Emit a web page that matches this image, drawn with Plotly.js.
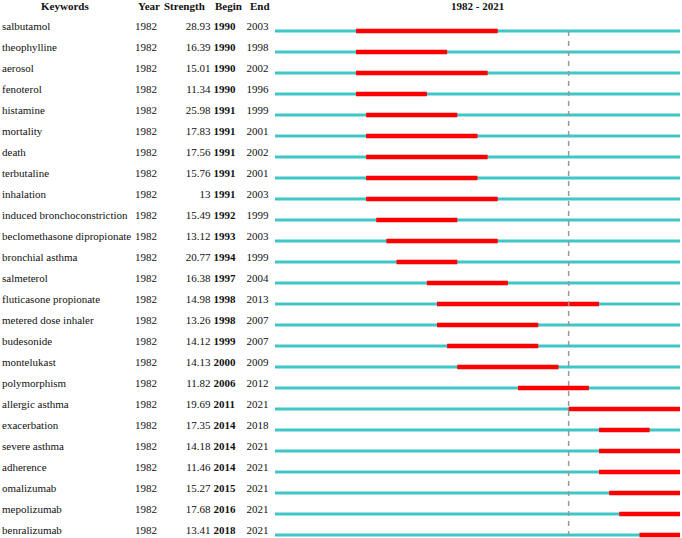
<!DOCTYPE html>
<html>
<head>
<meta charset="utf-8">
<script src="https://cdn.plot.ly/plotly-3.0.1.min.js"></script>
<style>html,body{margin:0;padding:0;background:#fff;}#chart{width:682px;height:538px;}</style>
</head>
<body>
<div id="chart"></div>
<script>
const keywords = ["salbutamol","theophylline","aerosol","fenoterol","histamine","mortality","death","terbutaline","inhalation","induced bronchoconstriction","beclomethasone dipropionate","bronchial asthma","salmeterol","fluticasone propionate","metered dose inhaler","budesonide","montelukast","polymorphism","allergic asthma","exacerbation","severe asthma","adherence","omalizumab","mepolizumab","benralizumab"];
const years = [1982,1982,1982,1982,1982,1982,1982,1982,1982,1982,1982,1982,1982,1982,1982,1982,1982,1982,1982,1982,1982,1982,1982,1982,1982];
const strength = ["28.93","16.39","15.01","11.34","25.98","17.83","17.56","15.76","13","15.49","13.12","20.77","16.38","14.98","13.26","14.12","14.13","11.82","19.69","17.35","14.18","11.46","15.27","17.68","13.41"];
const beginYear = [1990,1990,1990,1990,1991,1991,1991,1991,1991,1992,1993,1994,1997,1998,1998,1999,2000,2006,2011,2014,2014,2014,2015,2016,2018];
const endYear = [2003,1998,2002,1996,1999,2001,2002,2001,2003,1999,2003,1999,2004,2013,2007,2007,2009,2012,2021,2018,2021,2021,2021,2021,2021];
const headers = ["Keywords","Year","Strength","Begin","End"];
const periodStart = 1982, periodEnd = 2021;
const markYear = 2011;

const W = 682, H = 538;
const FONT = "Liberation Serif";
const FS = 11;
const rowIdx = keywords.map((k,i)=>i);
const textY = rowIdx.map(i=>i-0.2);

// base timeline lines
const bx=[], by=[];
rowIdx.forEach(i=>{bx.push(periodStart, periodEnd+1, null); by.push(i,i,null);});
// burst bars
const rx=[], ry=[];
rowIdx.forEach(i=>{rx.push(beginYear[i], endYear[i]+1, null); ry.push(i,i,null);});

const txt = (x, arr, pos, weight) => ({
  type:'scatter', mode:'text', xaxis:'x2', yaxis:'y',
  x: rowIdx.map(()=>x), y: textY, text: arr.map(String),
  textposition: pos, hoverinfo:'skip',
  textfont:{family:FONT, size:FS, color:'#111', weight: weight||'normal'}
});

const traces = [
  {type:'scatter', mode:'lines', x:bx, y:by, line:{color:'#3fc6c6', width:3}, hoverinfo:'skip'},
  {type:'scatter', mode:'lines', x:rx, y:ry, line:{color:'#ff0000', width:4.5}, hoverinfo:'skip'},
  txt(2, keywords, 'middle right'),
  txt(135, years, 'middle right'),
  txt(210.5, strength, 'middle left'),
  txt(213.5, beginYear, 'middle right', 'bold'),
  txt(246.5, endYear, 'middle right')
];

const hdrY = -1.2;
const hdrPos = [[65,'center'],[136,'left'],[207,'right'],[213,'left'],[248,'left']];
const annotations = headers.map((h,i)=>({
  xref:'x2', yref:'y', x:hdrPos[i][0], y:hdrY, text:'<b>'+h+'</b>', showarrow:false,
  xanchor:hdrPos[i][1], yanchor:'middle', font:{family:FONT, size:FS, color:'#111'}
}));
annotations.push({xref:'x', yref:'y', x:(periodStart+periodEnd+1)/2, y:hdrY, text:'<b>'+periodStart+' - '+periodEnd+'</b>',
  showarrow:false, xanchor:'center', yanchor:'middle', font:{family:FONT, size:FS, color:'#111'}});

const layout = {
  width:W, height:H, margin:{l:0,r:0,t:0,b:0},
  paper_bgcolor:'#fff', plot_bgcolor:'rgba(0,0,0,0)', showlegend:false,
  xaxis:{domain:[275/W, 680/W], range:[periodStart, periodEnd+1], visible:false, fixedrange:true},
  xaxis2:{domain:[0,1], range:[0,W], visible:false, anchor:'y', fixedrange:true},
  yaxis:{range:[(H-31)/21, -31/21], visible:false, fixedrange:true},
  shapes:[{type:'line', xref:'x', yref:'y', x0:markYear, x1:markYear, y0:0, y1:(H-31)/21,
    line:{color:'#999', width:1.5, dash:'5px,5px'}, layer:'above'}],
  annotations: annotations
};

Plotly.newPlot('chart', traces, layout, {staticPlot:true, displayModeBar:false});
</script>
</body>
</html>
